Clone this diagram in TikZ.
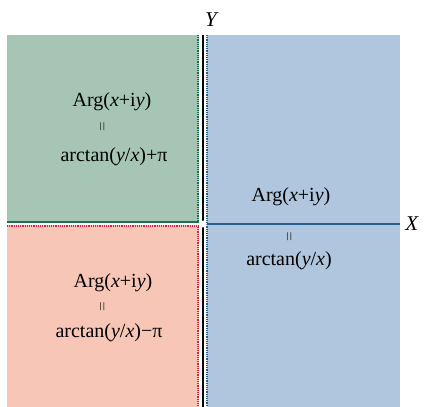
\documentclass[tikz,border=0pt]{standalone}
\usepackage{fontspec}
\setmainfont{Liberation Serif}
\usepackage{tikz}
\usetikzlibrary{positioning}
\definecolor{qgreen}{RGB}{167,197,181}
\definecolor{qpink}{RGB}{248,198,183}
\definecolor{qblue}{RGB}{176,198,222}
\definecolor{dgreen}{RGB}{28,112,76}
\definecolor{dred}{RGB}{220,32,62}
\definecolor{dblue}{RGB}{42,92,142}

\begin{document}
\begin{tikzpicture}[x=1pt, y=-1pt,
  lbl/.style={font=\fontsize{20}{24}\selectfont, anchor=base, inner sep=0pt},
  eqmark/.style={font=\fontsize{17}{18}\selectfont, rotate=90, inner sep=0pt, text=black!75},
  solidax/.style={line width=1.6pt},
  dotax/.style={line width=2pt, dash pattern=on 1.1pt off 1.1pt}]
\useasboundingbox (0,0) rectangle (429,407);
% quadrants
\fill[qgreen] (7,35) rectangle (199,221);
\fill[qpink] (7,225) rectangle (199,407);
\fill[qblue] (207,35) rectangle (400,407);
% axis points
\coordinate (o) at (203,224);
\coordinate (ytop) at (203,35);
\coordinate (ybot) at (203,407);
\draw[line width=1.3pt] (ytop) -- (ybot);
\draw[solidax, dgreen] (7,222) -- (199,222);
\draw[dotax, dgreen] (198,35) -- (198,221);
\draw[dotax, dred] (7,226) -- (199,226);
\draw[dotax, dred] (198,227) -- (198,407);
\draw[dotax, dblue] (207,35) -- (207,407);
\draw[solidax, dblue] (207,224) -- (400,224);
\fill[white] (o) circle (3.5);
% axis labels
\node[lbl, font=\fontsize{21}{24}\selectfont] (ylab) at (212,26) {\textit{Y}};
\node[lbl, font=\fontsize{21}{24}\selectfont] (xlab) at (412,230) {\textit{X}};
% upper left
\node[lbl] (argQ2) at (112,106) {Arg(\textit{x}+i\textit{y})};
\node[eqmark] (eqQ2) at (104,127) {=};
\node[lbl] (atQ2) at (114,161) {arctan(\textit{y}/\textit{x})+π};
% lower left
\node[lbl] (argQ3) at (113,287) {Arg(\textit{x}+i\textit{y})};
\node[eqmark] (eqQ3) at (104,307) {=};
\node[lbl] (atQ3) at (109,337) {arctan(\textit{y}/\textit{x})−π};
% right half
\node[lbl] (argR) at (291,201) {Arg(\textit{x}+i\textit{y})};
\node[eqmark] (eqR) at (291,237) {=};
\node[lbl] (atR) at (289,265) {arctan(\textit{y}/\textit{x})};
\end{tikzpicture}
\end{document}
